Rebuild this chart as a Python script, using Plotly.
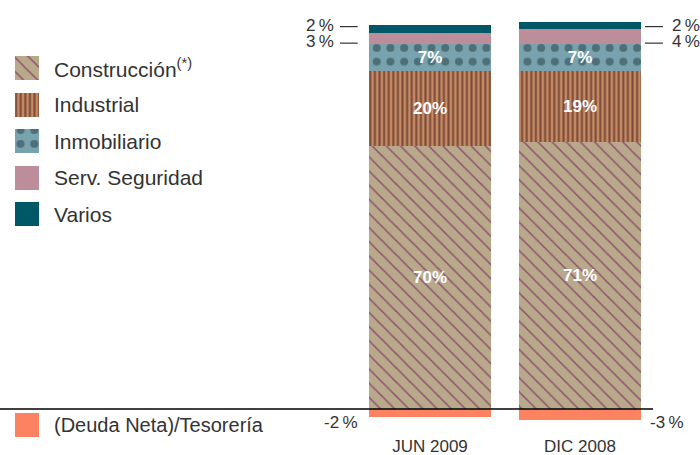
import plotly.graph_objects as go

# ---------------- data ----------------
periods = ["JUN 2009", "DIC 2008"]
construccion = [70, 71]
industrial = [20, 19]
inmobiliario = [7, 7]
serv_seguridad = [3, 4]
varios = [2, 2]
deuda_tesoreria = [-2, -3]

series_labels = ["Construcción<sup>(*)</sup>", "Industrial", "Inmobiliario",
                 "Serv. Seguridad", "Varios"]
deuda_label = "(Deuda Neta)/Tesorería"

# ---------------- styles ----------------
FONT = "Liberation Sans"
TXT = "#333333"
W, H = 700, 455
BAR_W = 0.8133
PX_PER_UNIT = 3.76
BASE_PX = 409          # pixel row of the zero line
AXIS_PX = 434          # pixel row of the category axis

styles = [
    dict(color="#B8A98A", pattern=dict(shape="\\", fgcolor="#8E4F70", size=10, solidity=0.15, fillmode="overlay", fgopacity=1)),
    dict(color="#C58B66", pattern=dict(shape="|", fgcolor="#7C4B37", size=4.6, solidity=0.45, fillmode="overlay", fgopacity=1)),
    dict(color="#78A2AE", pattern=dict(shape=".", fgcolor="#4F6F78", size=13.7, solidity=0.27, fillmode="overlay", fgopacity=1)),
    dict(color="#BC8E9B"),
    dict(color="#005866"),
]
deuda_style = dict(color="#FC8262")

series_values = [construccion, industrial, inmobiliario, serv_seguridad, varios]
inner_text = [True, True, True, False, False]

fig = go.Figure()

for name, vals, st, show in zip(series_labels, series_values, styles, inner_text):
    fig.add_trace(go.Bar(
        x=periods, y=vals, width=[BAR_W] * len(periods), name=name,
        marker=dict(line=dict(width=0), **st),
        text=[f"{v}%" for v in vals] if show else None,
        textposition="inside" if show else "none",
        insidetextanchor="middle", textangle=0,
        textfont=dict(family=FONT, size=17, color="white", weight="bold"),
        hoverinfo="skip", showlegend=False,
    ))

fig.add_trace(go.Bar(
    x=periods, y=deuda_tesoreria, width=[BAR_W] * len(periods), name=deuda_label,
    marker=dict(line=dict(width=0), **deuda_style), textposition="none",
    hoverinfo="skip", showlegend=False,
))

# ---------------- custom legend (pixel-unit overlay axes) ----------------
SW = 24
SW_X = 27
leg_centers = [68, 104.5, 141, 177.5, 214]
deuda_center = 425
for name, st, cy in zip(series_labels, styles, leg_centers):
    fig.add_trace(go.Bar(x=[SW_X], y=[SW], base=[cy - SW / 2], width=SW,
                         marker=dict(line=dict(width=0), **st),
                         xaxis="x2", yaxis="y2", hoverinfo="skip", showlegend=False))
    fig.add_annotation(x=52, y=cy, xref="x2", yref="y2", text=name, showarrow=False,
                       xanchor="left", yanchor="middle",
                       font=dict(family=FONT, size=21, color=TXT))
fig.add_trace(go.Bar(x=[SW_X], y=[SW], base=[deuda_center - SW / 2], width=SW,
                     marker=dict(line=dict(width=0), **deuda_style),
                     xaxis="x2", yaxis="y2", hoverinfo="skip", showlegend=False))
fig.add_annotation(x=52, y=deuda_center, xref="x2", yref="y2", text=deuda_label,
                   showarrow=False, xanchor="left", yanchor="middle",
                   font=dict(family=FONT, size=20, color=TXT))

# ---------------- outside value labels ----------------
lab_font = dict(family=FONT, size=17, color=TXT)
Y_TOP_LAB = 102.1
Y_SEC_LAB = 97.7
Y_NEG_LAB = -3.7
# JUN 2009 on the left side, DIC 2008 on the right side
sides = [dict(tx=-0.627, anchor="right", d0=-0.60, d1=-0.482, neg_x=-0.467, neg_anchor="right"),
         dict(tx=1.60, anchor="left", d0=1.433, d1=1.553, neg_x=1.455, neg_anchor="left")]
for i, sd in enumerate(sides):
    for val, yy in [(varios[i], Y_TOP_LAB), (serv_seguridad[i], Y_SEC_LAB)]:
        fig.add_annotation(x=sd["tx"], y=yy, xref="x", yref="y", text=f"{val}\u2009%",
                           showarrow=False, xanchor=sd["anchor"], yanchor="middle",
                           font=lab_font)
        fig.add_shape(type="line", xref="x", yref="y", x0=sd["d0"], x1=sd["d1"],
                      y0=yy - 0.4, y1=yy - 0.4, line=dict(color=TXT, width=1.2))
    fig.add_annotation(x=sd["neg_x"], y=Y_NEG_LAB, xref="x", yref="y",
                       text=f"{deuda_tesoreria[i]}\u2009%", showarrow=False,
                       xanchor=sd["neg_anchor"], yanchor="middle", font=lab_font)

# zero line
fig.add_shape(type="line", xref="paper", yref="y", x0=0, x1=653 / W, y0=0, y1=0,
              line=dict(color="black", width=1.3), layer="above")

y_top = BASE_PX / PX_PER_UNIT
y_bot = -(H - BASE_PX) / PX_PER_UNIT
x_left = -430 / 150
x_right = (W - 430) / 150

fig.update_layout(
    width=W, height=H, autosize=False,
    margin=dict(l=0, r=0, t=0, b=0),
    paper_bgcolor="white", plot_bgcolor="white",
    barmode="relative", bargap=0,
    font=dict(family=FONT, color=TXT),
    xaxis=dict(type="category", categoryorder="array", categoryarray=periods,
               range=[x_left, x_right], domain=[0, 1], anchor="free",
               position=(H - AXIS_PX) / H,
               showgrid=False, zeroline=False, showline=False, ticks="",
               tickfont=dict(family=FONT, size=17, color=TXT)),
    yaxis=dict(range=[y_bot, y_top], domain=[0, 1], showgrid=False, zeroline=False,
               showline=False, showticklabels=False, ticks=""),
    xaxis2=dict(range=[0, W], overlaying="x", anchor="y2", visible=False,
                showgrid=False, zeroline=False),
    yaxis2=dict(range=[H, 0], overlaying="y", anchor="x2", visible=False,
                showgrid=False, zeroline=False),
    showlegend=False,
)

fig.write_html("out.html", config={"displayModeBar": False},
               post_script="document.body.style.margin='0';document.body.style.overflow='hidden';")
